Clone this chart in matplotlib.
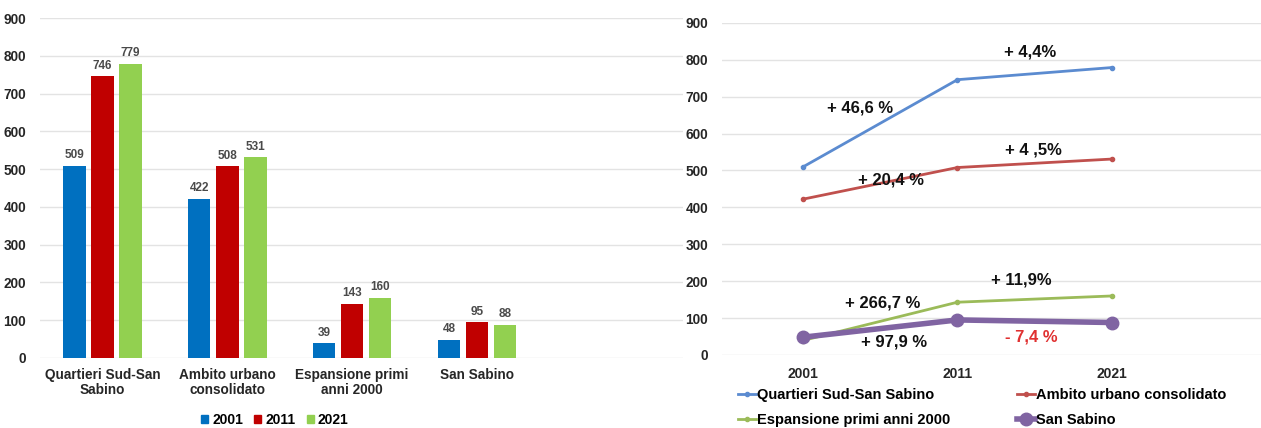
import matplotlib.pyplot as plt
from matplotlib.patches import Patch
import numpy as np

plt.rcParams['font.family'] = ['Liberation Sans', 'DejaVu Sans']

# data
zones = ['Quartieri Sud-San\nSabino', 'Ambito urbano\nconsolidato', 'Espansione primi\nanni 2000', 'San Sabino']
years = ['2001', '2011', '2021']
v2001 = [509, 422, 39, 48]
v2011 = [746, 508, 143, 95]
v2021 = [779, 531, 160, 88]

line_names = ['Quartieri Sud-San Sabino', 'Ambito urbano consolidato', 'Espansione primi anni 2000', 'San Sabino']
changes = [('+ 4,4%', 1.47, 821), ('+ 46,6 %', 0.37, 670), ('+ 4 ,5%', 1.49, 556), ('+ 20,4 %', 0.57, 474),
           ('+ 11,9%', 1.41, 203), ('+ 266,7 %', 0.52, 141), ('+ 97,9 %', 0.59, 35), ('- 7,4 %', 1.48, 49)]

bar_cols = ['#0070C0', '#C00000', '#92D050']
line_cols = ['#5B8BD0', '#C0504D', '#9BBB59', '#8064A2']
grid_c = '#E3E3E3'
txt_c = '#262626'

fig = plt.figure(figsize=(12.61, 4.28), dpi=100)

# ---- left: grouped bars
ax1 = fig.add_axes([0.0317, 0.1636, 0.510, 0.794])
x = np.arange(len(zones))
w = 0.225
for i, (vals, c) in enumerate(zip([v2001, v2011, v2021], bar_cols)):
    pos = x + (i - 1) * w
    ax1.bar(pos, vals, width=0.18, color=c, zorder=3)
    for p, v in zip(pos, vals):
        ax1.text(p, v + 12, str(v), ha='center', va='bottom', fontsize=8.5,
                 fontweight='bold', color='#4A4A4A')
ax1.set_ylim(0, 900)
ax1.set_xlim(-0.5, 4.65)
ax1.set_yticks(range(0, 901, 100))
ax1.set_xticks(x)
ax1.set_xticklabels(zones, fontsize=9.8, fontweight='bold', color=txt_c, linespacing=1.15)
ax1.tick_params(axis='y', labelsize=9.8, length=0, pad=10, labelcolor=txt_c)
ax1.tick_params(axis='x', length=0, pad=7)
for lab in ax1.get_yticklabels():
    lab.set_fontweight('bold')
ax1.grid(axis='y', color=grid_c, lw=1, zorder=0)
for s in ax1.spines.values():
    s.set_visible(False)
handles = [Patch(color=c, label=y) for c, y in zip(bar_cols, years)]
fig.legend(handles=handles, loc='center', bbox_to_anchor=(275 / 1261, 1 - 420 / 428), ncol=3,
           frameon=False, handlelength=0.5, handleheight=0.5, handletextpad=0.3, columnspacing=0.8,
           prop={'weight': 'bold', 'size': 10})

# ---- right: lines
ax2 = fig.add_axes([0.5726, 0.1706, 0.4274, 0.776])
xi = np.arange(len(years))
series = [[v2001[k], v2011[k], v2021[k]] for k in range(4)]
lh = []
for k, (vals, c) in enumerate(zip(series, line_cols)):
    if k == 3:
        h, = ax2.plot(xi, vals, color=c, lw=4, marker='o', ms=9, zorder=4, label=line_names[k])
    else:
        h, = ax2.plot(xi, vals, color=c, lw=2, marker='o', ms=3, zorder=3, label=line_names[k])
    lh.append(h)
for t, tx, ty in changes:
    ax2.text(tx, ty, t, ha='center', va='center', fontsize=12, fontweight='bold',
             color='#E03030' if t.startswith('-') else '#111111', zorder=5)
ax2.set_ylim(0, 900)
ax2.set_xlim(-0.52, 2.96)
ax2.set_yticks(range(0, 901, 100))
ax2.set_xticks(xi)
ax2.set_xticklabels(years, fontsize=10, fontweight='bold', color=txt_c)
ax2.tick_params(axis='y', labelsize=9.8, length=0, pad=10, labelcolor=txt_c)
ax2.tick_params(axis='x', length=0, pad=9)
for lab in ax2.get_yticklabels():
    lab.set_fontweight('bold')
ax2.grid(axis='y', color=grid_c, lw=1, zorder=0)
for s in ax2.spines.values():
    s.set_visible(False)
# legend fills column-wise, so reorder to read row-wise like the original
order = [0, 2, 1, 3]
fig.legend(handles=[lh[i] for i in order], loc='upper left', bbox_to_anchor=(738 / 1261, 1 - 388 / 428),
           ncol=2, frameon=False, borderpad=0, borderaxespad=0, handlelength=1.2, handletextpad=0.1,
           columnspacing=4.6, labelspacing=0.75, prop={'weight': 'bold', 'size': 10.5})

plt.savefig('out.png', dpi=100)
